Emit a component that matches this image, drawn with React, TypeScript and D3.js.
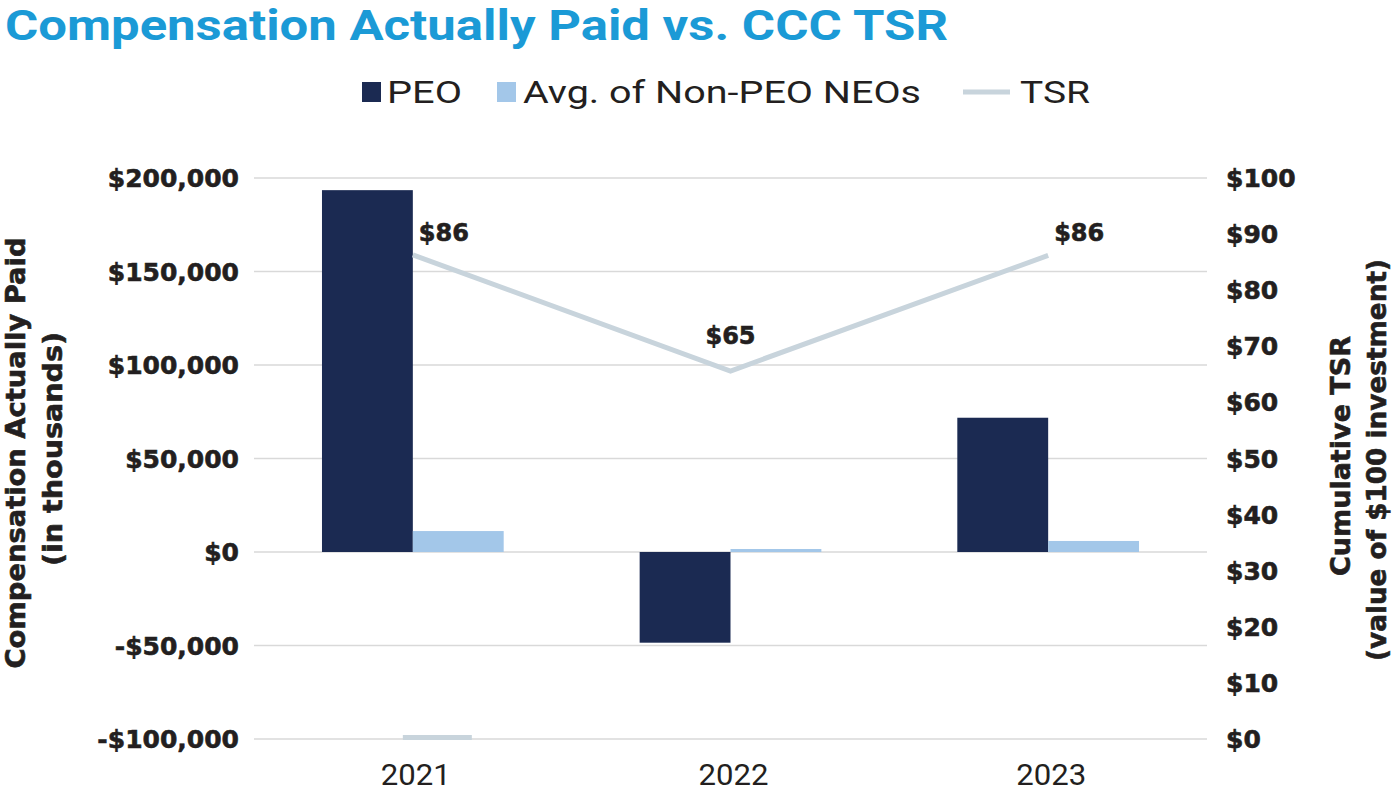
import React from 'react';
import * as d3 from 'd3';

const years = ['2021', '2022', '2023'];
const peoValues = [193500, -48500, 71800];
const neoValues = [11200, 1600, 5900];
const tsrValues = [86.3, 65.6, 86.2];
const tsrLabels = ['$86', '$65', '$86'];
const leftTicks = [200000, 150000, 100000, 50000, 0, -50000, -100000];
const rightTicks = [100, 90, 80, 70, 60, 50, 40, 30, 20, 10, 0];

const W = 1394;
const H = 792;
const margin = { top: 178, right: 187, bottom: 53, left: 254 };

const DARK = '#1b2a52';
const LIGHT = '#a3c7e9';
const TSR_COLOR = '#c8d4dc';
const TEXT = '#231f20';
const WIDE = '"DejaVu Sans", sans-serif';
const NARROW = 'Roboto, sans-serif';

const App: React.FC = () => {
    const x = d3.scaleBand<string>()
        .domain(years)
        .range([margin.left, W - margin.right]);
    const yLeft = d3.scaleLinear()
        .domain([-100000, 200000])
        .range([H - margin.bottom, margin.top]);
    const yRight = d3.scaleLinear()
        .domain([0, 100])
        .range([H - margin.bottom, margin.top]);

    const barW = x.bandwidth() * 0.286;
    const center = (y: string) => (x(y) as number) + x.bandwidth() / 2;

    const fmt = (v: number) => (v < 0 ? '-$' : '$') + d3.format(',')(Math.abs(v));

    const line = d3.line<number>()
        .x((d, i) => center(years[i]))
        .y(d => yRight(d));

    const y0 = yLeft(0);

    // bold text a touch heavier, like the source
    const heavy = { stroke: TEXT, strokeWidth: 0.6 };

    const axisTitles = [
        { text: 'Compensation Actually Paid', x: 25, y: 453, len: 431 },
        { text: '(in thousands)', x: 62, y: 449, len: 234 },
        { text: 'Cumulative TSR', x: 1350, y: 456, len: 240 },
        { text: '(value of $100 investment)', x: 1386, y: 460, len: 402 },
    ];

    return (
        <svg width={W} height={H} style={{ position: 'absolute', left: 0, top: 0, background: '#fff' }}>
            <text x={5} y={40} fill="#1b9ad6" fontFamily={NARROW} fontWeight={700} fontSize={42}
                textLength={943} lengthAdjust="spacingAndGlyphs">
                Compensation Actually Paid vs. CCC TSR
            </text>

            {/* legend */}
            <g fontFamily={NARROW} fontSize={31} fill={TEXT}>
                <rect x={362} y={82} width={19} height={20} fill={DARK} />
                <text x={387} y={103} textLength={75} lengthAdjust="spacingAndGlyphs">PEO</text>
                <rect x={497} y={82} width={19} height={20} fill={LIGHT} />
                <text x={523} y={103} textLength={398} lengthAdjust="spacingAndGlyphs">Avg. of Non-PEO NEOs</text>
                <line x1={963} x2={1010} y1={92} y2={92} stroke={TSR_COLOR} strokeWidth={5} />
                <text x={1020} y={103} textLength={70} lengthAdjust="spacingAndGlyphs">TSR</text>
            </g>

            {/* gridlines */}
            {leftTicks.map(t => (
                <line key={t} x1={margin.left} x2={W - margin.right} y1={yLeft(t)} y2={yLeft(t)}
                    stroke="#d9d9d9" strokeWidth={1.5} />
            ))}

            {/* left axis */}
            <g fontFamily={WIDE} fontWeight={700} fontSize={25} fill={TEXT} textAnchor="end" {...heavy}>
                {leftTicks.map(t => (
                    <text key={t} x={239} y={yLeft(t)} dy="0.36em">{fmt(t)}</text>
                ))}
            </g>
            <g fontFamily={WIDE} fontWeight={700} fontSize={25} fill={TEXT} {...heavy}>
                {rightTicks.map(t => (
                    <text key={t} x={1226} y={yRight(t)} dy="0.36em">{'$' + t}</text>
                ))}
            </g>

            {/* axis titles */}
            <g fontFamily={WIDE} fontWeight={700} fontSize={26} fill={TEXT} textAnchor="middle" {...heavy}>
                {axisTitles.map(t => (
                    <text key={t.text} transform={`translate(${t.x}, ${t.y}) rotate(-90)`}
                        textLength={t.len} lengthAdjust="spacingAndGlyphs">{t.text}</text>
                ))}
            </g>

            {/* bars */}
            {years.map((yr, i) => {
                const c = center(yr);
                const p = peoValues[i];
                const n = neoValues[i];
                return (
                    <g key={yr}>
                        <rect x={c - barW} width={barW} y={Math.min(yLeft(p), y0)}
                            height={Math.abs(yLeft(p) - y0)} fill={DARK} />
                        <rect x={c} width={barW} y={Math.min(yLeft(n), y0)}
                            height={Math.max(Math.abs(yLeft(n) - y0), 3)} fill={LIGHT} />
                    </g>
                );
            })}

            {/* stray TSR marker at zero */}
            <rect x={center(years[0]) - 10} y={yRight(0) - 4} width={69} height={5} fill={TSR_COLOR} />

            {/* TSR line */}
            <path d={line(tsrValues) || ''} fill="none" stroke={TSR_COLOR} strokeWidth={5} />
            <g fontFamily={WIDE} fontWeight={700} fontSize={24} fill={TEXT} {...heavy}>
                {tsrValues.map((v, i) => {
                    const c = center(years[i]);
                    const mid = i === 1;
                    return (
                        <text key={i} x={mid ? c : c + 6} y={yRight(v) - (mid ? 27 : 14)}
                            textAnchor={mid ? 'middle' : 'start'}>{tsrLabels[i]}</text>
                    );
                })}
            </g>

            {/* x axis labels */}
            <g fontFamily={NARROW} fontSize={29} fill={TEXT} textAnchor="middle">
                {years.map(yr => (
                    <text key={yr} x={center(yr) + 3} y={785} textLength={70} lengthAdjust="spacingAndGlyphs">{yr}</text>
                ))}
            </g>
        </svg>
    );
};

export default App;
